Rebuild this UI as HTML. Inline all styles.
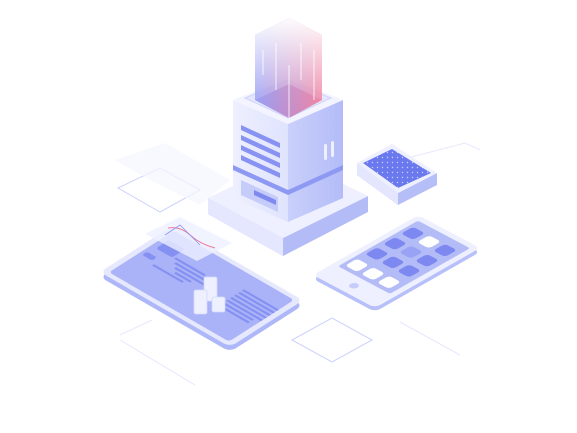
<!DOCTYPE html>
<html><head><meta charset="utf-8"><style>html,body{margin:0;padding:0;background:#fff;width:577px;height:433px;overflow:hidden}</style></head>
<body>
<svg width="577" height="433" viewBox="0 0 577 433" xmlns="http://www.w3.org/2000/svg">
<defs>
<linearGradient id="cry" x1="0" y1="0" x2="1" y2="0"><stop offset="0" stop-color="#8f97f5"/><stop offset="1" stop-color="#f07a9a"/></linearGradient>
<linearGradient id="fade" x1="0" y1="0" x2="0" y2="1"><stop offset="0" stop-color="#fff" stop-opacity="0.97"/><stop offset="0.75" stop-color="#fff" stop-opacity="0.15"/><stop offset="1" stop-color="#fff" stop-opacity="0"/></linearGradient>
<linearGradient id="lf" x1="0" y1="0" x2="1" y2="0"><stop offset="0" stop-color="#eef0ff"/><stop offset="1" stop-color="#dfe3fd"/></linearGradient>
<linearGradient id="rf" x1="0" y1="0" x2="1" y2="0"><stop offset="0" stop-color="#c9d0fb"/><stop offset="1" stop-color="#b3bcf8"/></linearGradient>
<pattern id="dots" width="5" height="5" patternUnits="userSpaceOnUse"><rect width="5" height="5" fill="#6b79ee"/><circle cx="2.5" cy="2.5" r="0.7" fill="#c9cffb"/></pattern>
</defs>
<g fill="none" stroke="#cdd2fb" stroke-width="1">
<path d="M118,188 L160,168 L200,190 L160,212 Z"/>
<path d="M292,340 L332,318 L372,340 L332,362 Z"/>
<path d="M120,335 L152,320 M120,340 L195,385" stroke="#e6e8fd"/>
<path d="M400,160 L465,143 L480,150" stroke="#e6e8fd"/>
<path d="M400,322 L460,355" stroke="#e6e8fd"/>
</g>
<polygon points="115,160 165,143 230,180 200,205 150,180" fill="#f5f6ff" opacity="0.7"/>
<!-- base platform -->
<polygon points="208,198 283,238 368,196 368,212 283,256 208,214" fill="#b4bcf8"/>
<polygon points="208,198 283,238 283,256 208,214" fill="#e4e7fe"/>
<polygon points="208,198 290,158 368,196 283,238" fill="#eef0ff"/>
<!-- body -->
<polygon points="233,165 288,190 288,222 233,198" fill="url(#lf)"/>
<polygon points="288,190 343,165 343,198 288,222" fill="url(#rf)"/>
<polygon points="233,100 288,124 288,190 233,165" fill="url(#lf)"/>
<polygon points="288,124 343,100 343,165 288,190" fill="url(#rf)"/>
<polygon points="233,165 288,190 343,165 343,170 288,195 233,170" fill="#8e99f3"/>
<polygon points="233,100 288,78 343,100 288,124" fill="#f3f4ff"/>
<g fill="#8792f2">
<polygon points="241,125 280,143 280,148 241,130"/>
<polygon points="241,135 280,153 280,158 241,140"/>
<polygon points="241,145 280,163 280,168 241,150"/>
<polygon points="241,155 280,173 280,178 241,160"/>
</g>
<polygon points="241,180 278,197 278,212 241,195" fill="#c5ccfa"/>
<polygon points="254,190 276,200 276,205 254,195" fill="#7f8af0"/>
<rect x="324" y="144" width="3" height="16" rx="1.5" fill="#eef0ff"/><rect x="331" y="141" width="3" height="16" rx="1.5" fill="#eef0ff"/>
<!-- crystal -->
<polygon points="245,98 288,80 331,98 288,118" fill="#e4e7fd" stroke="#cfd4fb"/>
<polygon points="255,35 289,18 322,35 322,100 289,118 255,100" fill="url(#cry)" opacity="0.85"/>
<polygon points="255,35 289,18 322,35 322,100 289,118 255,100" fill="url(#fade)"/>
<polygon points="255,100 289,84 322,100 289,118" fill="url(#cry)" opacity="0.6"/>
<g stroke="#fff" stroke-width="1" opacity="0.8"><line x1="263" y1="50" x2="263" y2="75"/><line x1="276" y1="43" x2="276" y2="90"/><line x1="289" y1="65" x2="289" y2="118"/><line x1="301" y1="43" x2="301" y2="80"/><line x1="314" y1="50" x2="314" y2="100"/></g>
<!-- chip -->
<polygon points="357,163 398,193 437,173 437,185 398,205 357,175" fill="#b6bef8"/>
<polygon points="357,163 398,193 398,205 357,175" fill="#e3e6fd"/>
<polygon points="357,163 392,144 437,173 398,193" fill="#eef0ff"/>
<polygon points="363,163 392,149 431,173 398,188" fill="url(#dots)"/>
<!-- tablet -->
<g transform="translate(0,5)"><g transform="matrix(1,0.577,1,-0.64,100,272)"><rect x="0" y="0" width="130" height="73" rx="6" fill="#aeb7f8"/></g></g>
<g transform="matrix(1,0.577,1,-0.64,100,272)">
<rect x="0" y="0" width="130" height="73" rx="6" fill="#e6e9fe"/>
<rect x="5" y="4" width="120" height="65" rx="3" fill="#aab3f7"/>
<rect x="10" y="46" width="16" height="13" rx="2" fill="#8591f2"/>
<rect x="8" y="34" width="10" height="5" rx="2" fill="#8591f2"/>
<g fill="#8591f2"><rect x="28" y="46" width="30" height="2"/><rect x="32" y="42" width="30" height="2"/><rect x="36" y="38" width="30" height="2"/><rect x="40" y="34" width="16" height="2"/><rect x="22" y="30" width="30" height="2"/>
<rect x="90" y="52" width="35" height="2"/><rect x="90" y="48" width="35" height="2"/><rect x="90" y="44" width="35" height="2"/><rect x="90" y="40" width="35" height="2"/><rect x="90" y="36" width="35" height="2"/><rect x="90" y="32" width="30" height="2"/><rect x="90" y="28" width="30" height="2"/></g>
</g>
<g fill="#eef0ff" stroke="#d4d9fc" stroke-width="0.8">
<rect x="204" y="277" width="13" height="24" rx="2"/><rect x="194" y="290" width="13" height="24" rx="2"/><rect x="212" y="297" width="13" height="15" rx="2"/>
</g>
<!-- floating chart -->
<polygon points="145,234 180,217 232,243 197,261" fill="#eef0ff" opacity="0.8"/>
<path d="M168,228 Q180,226 190,235 T215,248" stroke="#ef7b96" stroke-width="1" fill="none"/>
<path d="M165,235 L180,225 L200,245" stroke="#8792f2" stroke-width="0.8" fill="none"/>
<!-- phone -->
<g transform="translate(0,4)"><g transform="matrix(1,0.53,1,-0.57,313,275)"><rect x="0" y="0" width="62" height="105" rx="5" fill="#b8c0f9"/></g></g>
<g transform="matrix(1,0.53,1,-0.57,313,275)">
<rect x="0" y="0" width="62" height="105" rx="5" fill="#eef0ff"/>
<rect x="5" y="20" width="52" height="80" rx="2" fill="#b4bcf8"/>
<circle cx="31" cy="10" r="3.5" fill="#c6cdfb"/>
<g fill="#fff"><rect x="8" y="24" width="12" height="12" rx="3"/><rect x="24" y="24" width="12" height="12" rx="3"/><rect x="40" y="24" width="12" height="12" rx="3"/></g>
<g fill="#7d89f1"><rect x="8" y="44" width="12" height="12" rx="3"/><rect x="24" y="44" width="12" height="12" rx="3"/><rect x="40" y="44" width="12" height="12" rx="3"/>
<rect x="8" y="62" width="12" height="12" rx="3"/><rect x="24" y="62" width="12" height="12" rx="3" opacity="0.5"/><rect x="40" y="62" width="12" height="12" rx="3"/>
<rect x="8" y="80" width="12" height="12" rx="3"/><rect x="40" y="80" width="12" height="12" rx="3"/></g>
<rect x="24" y="80" width="12" height="12" rx="3" fill="#fff"/>
</g>
</svg>
</body></html>
